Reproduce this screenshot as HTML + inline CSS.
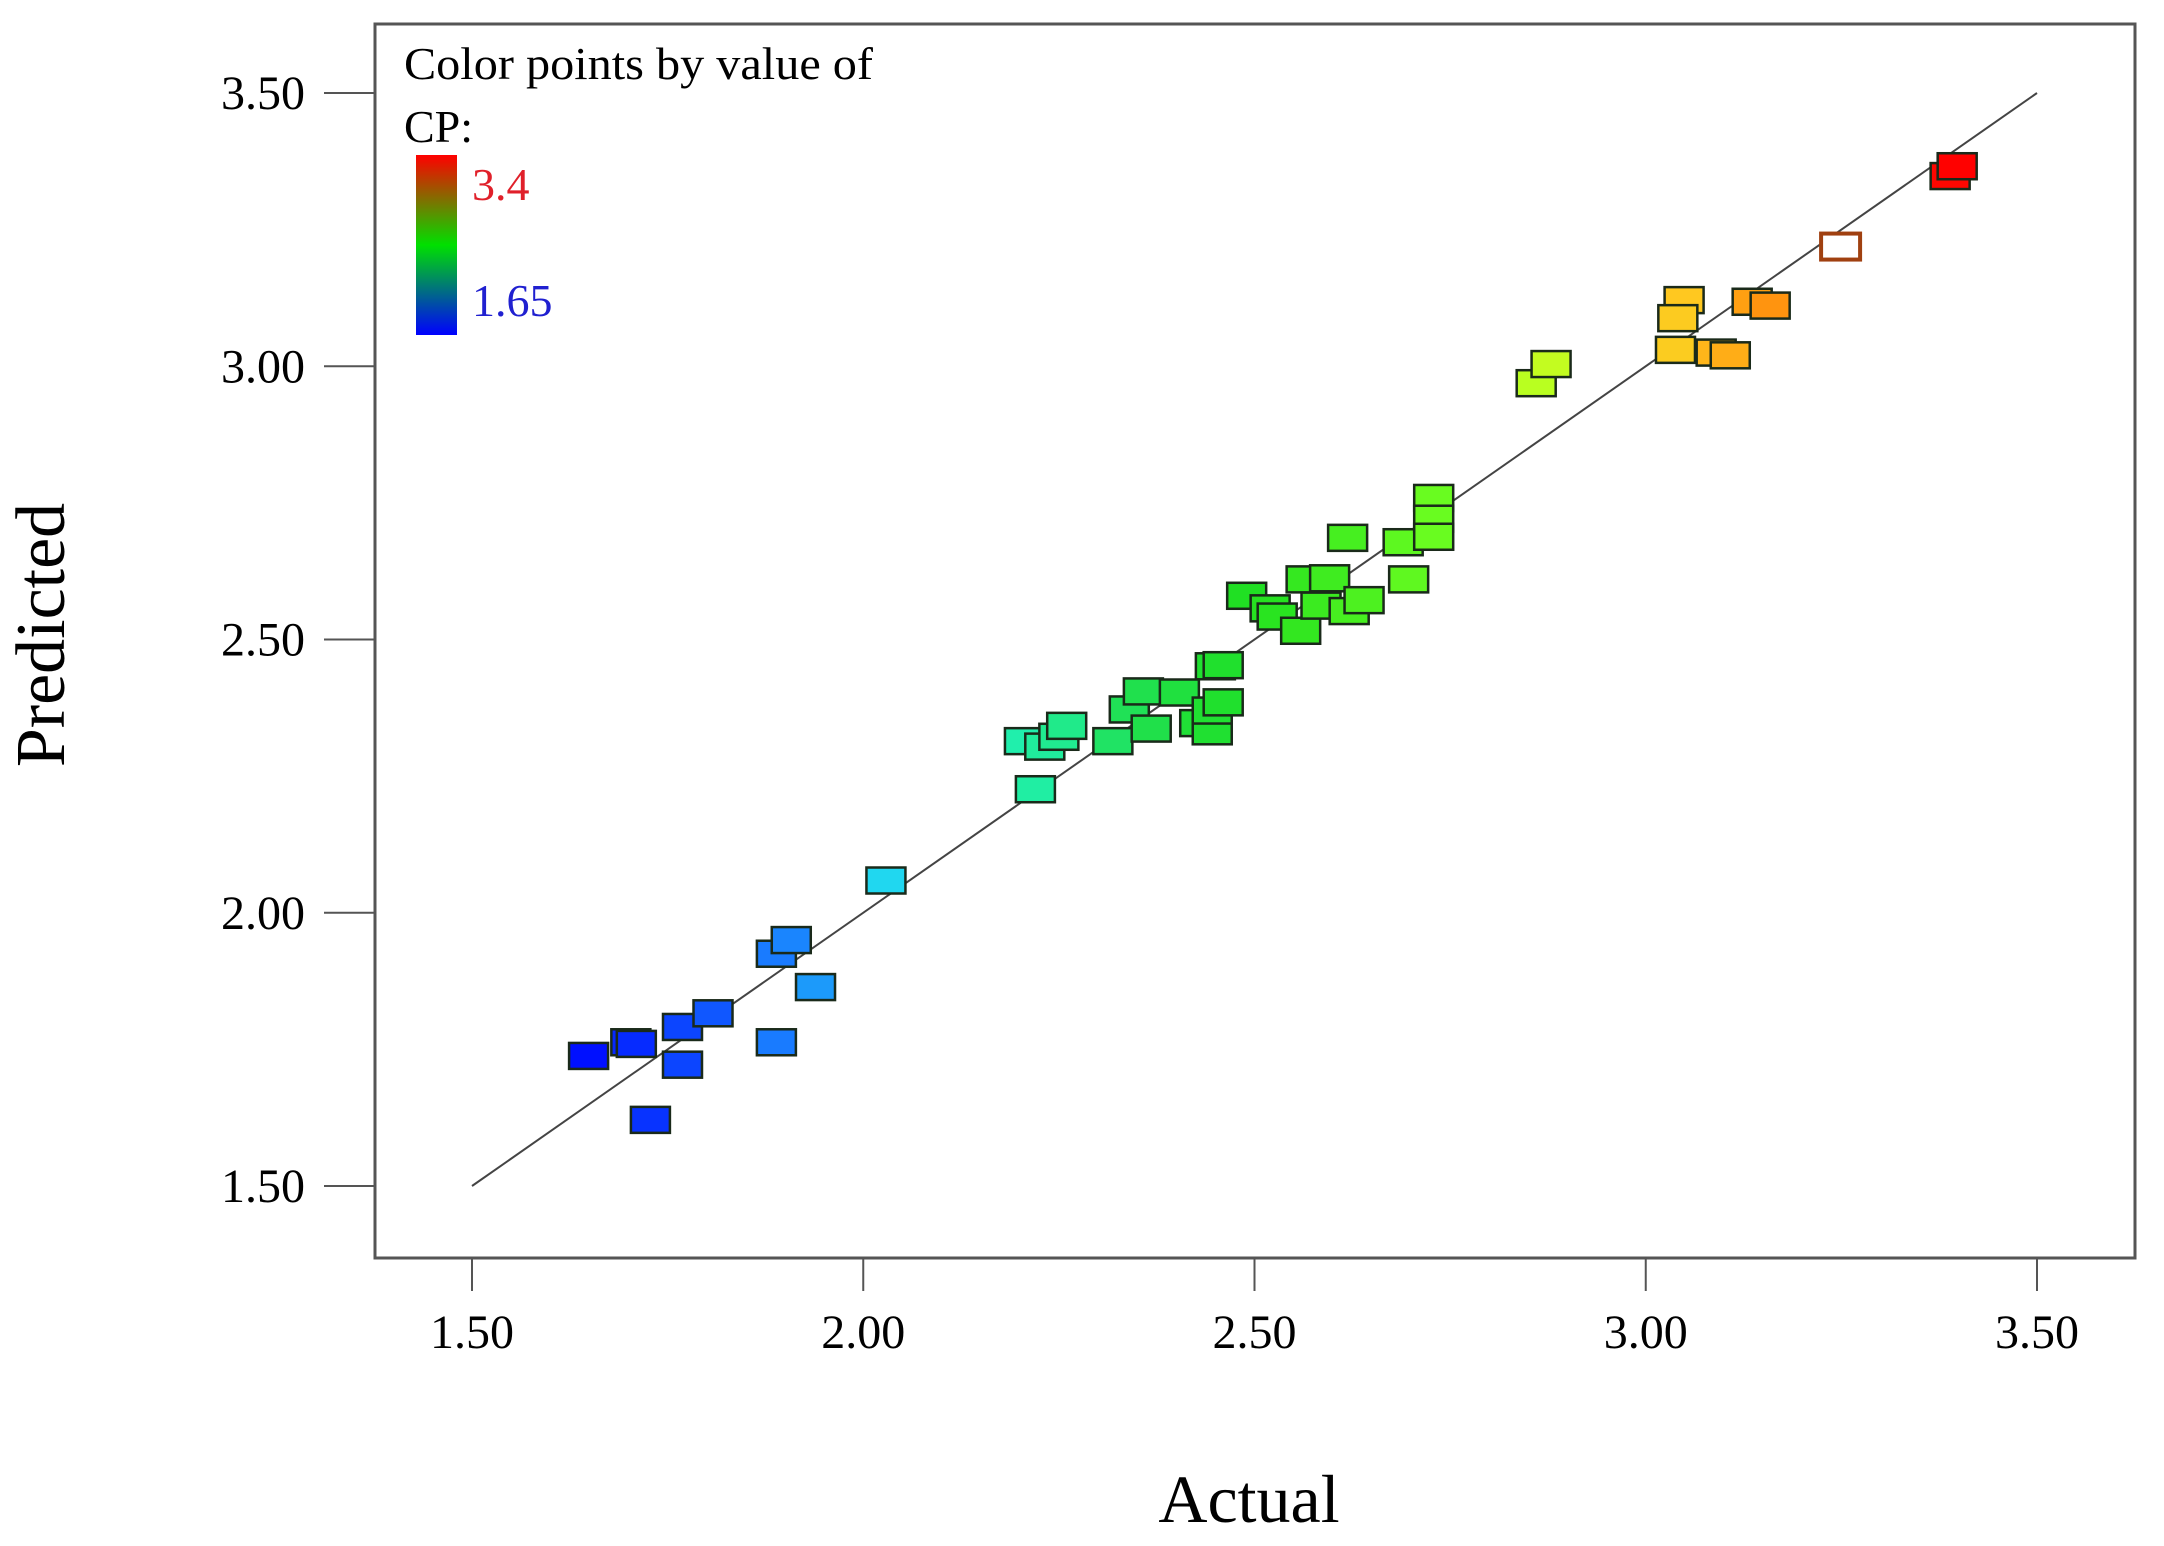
<!DOCTYPE html>
<html><head><meta charset="utf-8"><style>
html,body{margin:0;padding:0;background:#fff;}
svg{display:block;font-family:"Liberation Serif",serif;}
</style></head><body>
<svg id="chart" width="2164" height="1546" viewBox="0 0 2164 1546">
<defs>
<linearGradient id="cbar" x1="0" y1="1" x2="0" y2="0">
<stop offset="0" stop-color="#0000ff"/><stop offset="0.5" stop-color="#00e000"/><stop offset="1" stop-color="#ff0000"/>
</linearGradient>
</defs>
<rect x="375" y="24" width="1760" height="1234" fill="#fff" stroke="#555" stroke-width="3"/>
<g id="axes"></g>
<line id="fitline" stroke="#444" stroke-width="2"/>
<g id="pts"></g>
<g>
<text x="404" y="79" font-size="46" textLength="469" lengthAdjust="spacingAndGlyphs">Color points by value of</text>
<text x="404" y="142" font-size="46">CP:</text>
<rect x="416" y="155" width="41" height="180" fill="url(#cbar)"/>
<text x="472" y="200" font-size="46" fill="#e0202a">3.4</text>
<text x="472" y="316" font-size="46" fill="#2020d0">1.65</text>
</g>
<text x="1249" y="1522" font-size="68" text-anchor="middle">Actual</text>
<text transform="translate(64,635) rotate(-90)" font-size="70" text-anchor="middle">Predicted</text>
</svg>
<script>
const xTicks=[1.5,2.0,2.5,3.0,3.5];
const yTicks=[1.5,2.0,2.5,3.0,3.5];
const tickLabels=["1.50","2.00","2.50","3.00","3.50"];
const actual=[1.649,1.703,1.710,1.728,1.769,1.769,1.808,1.889,1.908,1.889,1.939,2.029,2.206,2.232,2.250,2.260,2.220,2.319,2.340,2.358,2.368,2.404,2.430,2.446,2.446,2.460,2.450,2.460,2.490,2.520,2.529,2.559,2.566,2.596,2.585,2.621,2.640,2.619,2.690,2.697,2.729,2.729,2.729,2.860,2.879,3.038,3.049,3.041,3.090,3.108,3.136,3.159,3.249,3.389,3.398];
const predicted=[1.738,1.763,1.760,1.621,1.791,1.722,1.816,1.925,1.950,1.763,1.864,2.059,2.314,2.304,2.322,2.342,2.226,2.314,2.372,2.405,2.337,2.403,2.347,2.332,2.370,2.385,2.451,2.453,2.580,2.557,2.542,2.516,2.610,2.612,2.562,2.552,2.572,2.686,2.678,2.610,2.759,2.721,2.688,2.969,3.004,3.030,3.121,3.088,3.025,3.020,3.118,3.111,3.219,3.348,3.366];
const colorStops=[[1.65,[0,16,255]],[1.9,[26,128,255]],[2.03,[32,216,240]],[2.2,[32,240,176]],[2.35,[32,224,80]],[2.5,[32,224,32]],[2.75,[112,255,32]],[2.87,[192,255,32]],[3.05,[255,200,32]],[3.15,[255,154,16]],[3.4,[255,0,0]]];
const NS="http://www.w3.org/2000/svg";
const sx=v=>472+(v-1.5)*782.5;
const sy=v=>1186-(v-1.5)*546.5;
function col(v){
  if(v<=colorStops[0][0])return "rgb("+colorStops[0][1]+")";
  for(let i=1;i<colorStops.length;i++){
    if(v<=colorStops[i][0]){
      const a=colorStops[i-1],b=colorStops[i],t=(v-a[0])/(b[0]-a[0]);
      return "rgb("+a[1].map((c,k)=>Math.round(c+(b[1][k]-c)*t)).join(",")+")";
    }
  }
  return "rgb(255,0,0)";
}
function mk(tag,attrs,parent){const e=document.createElementNS(NS,tag);for(const k in attrs)e.setAttribute(k,attrs[k]);parent.appendChild(e);return e;}
const axes=document.getElementById('axes');
xTicks.forEach((v,i)=>{
  const l=mk('line',{x1:sx(v),x2:sx(v),y1:1258,y2:1291,stroke:'#555','stroke-width':2},axes);
  
  
  const t=mk('text',{x:sx(v),y:1348,'font-size':48,'text-anchor':'middle'},axes);
  t.textContent=tickLabels[i];
  
  
});
yTicks.forEach((v,i)=>{
  const l=mk('line',{x1:324,x2:375,y1:sy(v),y2:sy(v),stroke:'#555','stroke-width':2},axes);
  
  
  const t=mk('text',{x:305,y:sy(v)+16,'font-size':48,'text-anchor':'end'},axes);
  t.textContent=tickLabels[i];
  
  
});
const fl=document.getElementById('fitline');
fl.setAttribute('x1',sx(1.5));fl.setAttribute('y1',sy(1.5));fl.setAttribute('x2',sx(3.5));fl.setAttribute('y2',sy(3.5));
const pts=document.getElementById('pts');
actual.forEach((a,i)=>{
  const hollow=Math.abs(a-3.249)<0.001;
  const r=mk('rect',{x:sx(a)-19.5,y:sy(predicted[i])-13,width:39,height:26,fill:hollow?'#fff':col(a),stroke:hollow?'#a04010':'#1a2a1a','stroke-width':hollow?4:2.5},pts);
  
  
});
</script>
</body></html>
